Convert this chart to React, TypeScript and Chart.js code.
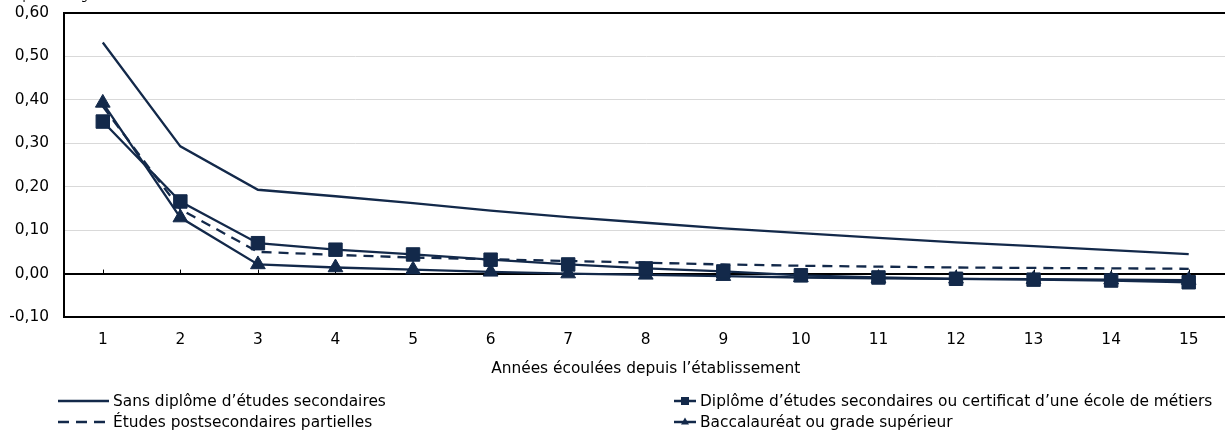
import React, { useEffect, useRef } from "react";
import { Chart, registerables } from "chart.js";

Chart.register(...registerables);

// ---- Data ----
const years = ["1", "2", "3", "4", "5", "6", "7", "8", "9", "10", "11", "12", "13", "14", "15"];

const seriesNames = [
  "Sans diplôme d’études secondaires",
  "Diplôme d’études secondaires ou certificat d’une école de métiers",
  "Études postsecondaires partielles",
  "Baccalauréat ou grade supérieur",
];

const sansDiplome = [0.532, 0.293, 0.193, 0.178, 0.162, 0.145, 0.13, 0.117, 0.104, 0.093, 0.082, 0.072, 0.063, 0.054, 0.045];
const diplomeSecondaire = [0.35, 0.166, 0.07, 0.055, 0.044, 0.032, 0.021, 0.012, 0.005, -0.004, -0.009, -0.012, -0.014, -0.016, -0.02];
const etudesPartielles = [0.385, 0.148, 0.05, 0.043, 0.037, 0.033, 0.029, 0.025, 0.021, 0.018, 0.016, 0.014, 0.013, 0.012, 0.011];
const baccalaureat = [0.393, 0.129, 0.021, 0.014, 0.009, 0.004, 0.0, -0.003, -0.006, -0.009, -0.011, -0.012, -0.013, -0.014, -0.015];

const yMin = -0.1;
const yMax = 0.6;
const yStep = 0.1;

const xTitle = "Années écoulées depuis l’établissement";
const unitNote = "(en pourcentage)";

const NAVY = "#13294a";
const FONT = "'DejaVu Sans', Verdana, sans-serif";
const FS = 15.4;

const zeroTicks = {
  id: "zeroTicks",
  beforeDatasetsDraw(chart: any) {
    const xs = chart.scales.x;
    const ys = chart.scales.y;
    const py = ys.getPixelForValue(0);
    const ctx = chart.ctx;
    ctx.save();
    ctx.strokeStyle = "#000";
    ctx.lineWidth = 1;
    for (let i = 0; i < xs.ticks.length; i++) {
      const px = Math.round(xs.getPixelForTick(i)) + 0.5;
      ctx.beginPath();
      ctx.moveTo(px, py);
      ctx.lineTo(px, py - 4);
      ctx.stroke();
    }
    ctx.restore();
  },
};

function LegendSample({ kind, width }: { kind: string; width: number }) {
  const mid = width / 2;
  return (
    <svg width={width} height={12} style={{ display: "block", marginRight: 4 }}>
      <line
        x1={0}
        y1={6}
        x2={width}
        y2={6}
        stroke={NAVY}
        strokeWidth={2.5}
        strokeDasharray={kind === "dash" ? "11 7" : undefined}
      />
      {kind === "rect" && <rect x={mid - 4} y={2} width={8} height={8} fill={NAVY} />}
      {kind === "tri" && <polygon points={`${mid},1.5 ${mid + 4},8.5 ${mid - 4},8.5`} fill={NAVY} />}
    </svg>
  );
}

export default function App() {
  const ref = useRef<HTMLCanvasElement>(null);

  useEffect(() => {
    const chart = new Chart(ref.current!, {
      type: "line",
      data: {
        labels: years,
        datasets: [
          {
            label: seriesNames[0],
            data: sansDiplome,
            borderColor: NAVY,
            borderWidth: 2.3,
            pointRadius: 0,
          },
          {
            label: seriesNames[1],
            data: diplomeSecondaire,
            borderColor: NAVY,
            borderWidth: 2.3,
            pointStyle: "rect",
            pointRadius: 9.5,
            pointBorderWidth: 1,
            pointBackgroundColor: NAVY,
            pointBorderColor: NAVY,
          },
          {
            label: seriesNames[2],
            data: etudesPartielles,
            borderColor: NAVY,
            borderWidth: 2.3,
            borderDash: [10, 7],
            pointRadius: 0,
          },
          {
            label: seriesNames[3],
            data: baccalaureat,
            borderColor: NAVY,
            borderWidth: 2.3,
            pointStyle: "triangle",
            pointRadius: 8.5,
            pointBorderWidth: 1,
            pointBackgroundColor: NAVY,
            pointBorderColor: NAVY,
          },
        ],
      },
      options: {
        responsive: false,
        animation: false,
        layout: { padding: { top: 13, right: 0, left: 0, bottom: 55 } },
        plugins: { legend: { display: false }, tooltip: { enabled: false } },
        scales: {
          x: {
            offset: true,
            grid: { display: false, drawTicks: false },
            border: { color: "#000", width: 2 },
            ticks: { padding: 14, color: "#000", font: { family: FONT, size: FS } },
            title: {
              display: true,
              text: xTitle,
              color: "#000",
              font: { family: FONT, size: FS },
              padding: { top: 8, bottom: 0 },
            },
            afterFit: (scale: any) => {
              scale.height = 61;
              scale.paddingLeft = 0;
              scale.paddingRight = 0;
            },
          },
          y: {
            min: yMin,
            max: yMax,
            ticks: {
              stepSize: yStep,
              padding: 15,
              color: "#000",
              font: { family: FONT, size: FS },
              callback: (v: any) => {
                const n = Math.abs(Number(v)) < 1e-9 ? 0 : Number(v);
                return n.toFixed(2).replace(".", ",");
              },
            },
            grid: {
              drawTicks: false,
              color: (ctx: any) => {
                const v = ctx.tick ? ctx.tick.value : 0;
                if (Math.abs(v) < 1e-9 || Math.abs(v - yMax) < 1e-9) return "#000";
                if (v < yMin + 1e-9) return "rgba(0,0,0,0)";
                return "#d9d9d9";
              },
              lineWidth: (ctx: any) => {
                const v = ctx.tick ? ctx.tick.value : 0;
                if (Math.abs(v) < 1e-9 || Math.abs(v - yMax) < 1e-9) return 2;
                return 1;
              },
            },
            border: { color: "#000", width: 2 },
            afterFit: (scale: any) => {
              scale.width = 64;
              scale.paddingTop = 0;
              scale.paddingBottom = 0;
            },
          },
        },
      },
      plugins: [zeroTicks],
    });
    return () => chart.destroy();
  }, []);

  const textStyle: React.CSSProperties = {
    fontFamily: FONT,
    fontSize: FS,
    color: "#000",
    whiteSpace: "nowrap",
  };

  const legendItem = (kind: string, name: string, left: number, centerY: number, sampleW: number) => (
    <div
      style={{
        position: "absolute",
        left,
        top: centerY - 10,
        display: "flex",
        alignItems: "center",
        height: 20,
        ...textStyle,
      }}
    >
      <LegendSample kind={kind} width={sampleW} />
      <span>{name}</span>
    </div>
  );

  return (
    <div style={{ position: "absolute", left: 0, top: 0, width: 1225, height: 433, overflow: "hidden", background: "#fff" }}>
      <canvas ref={ref} width={1238} height={433} style={{ position: "absolute", left: 0, top: 0 }} />
      <div
        style={{
          position: "absolute",
          left: 0,
          top: -12,
          lineHeight: "14px",
          fontFamily: FONT,
          fontSize: 11.5,
          whiteSpace: "nowrap",
        }}
      >
        {unitNote}
      </div>
      {legendItem("solid", seriesNames[0], 58, 401, 51)}
      {legendItem("rect", seriesNames[1], 674, 401, 22)}
      {legendItem("dash", seriesNames[2], 58, 422, 51)}
      {legendItem("tri", seriesNames[3], 674, 422, 22)}
    </div>
  );
}
